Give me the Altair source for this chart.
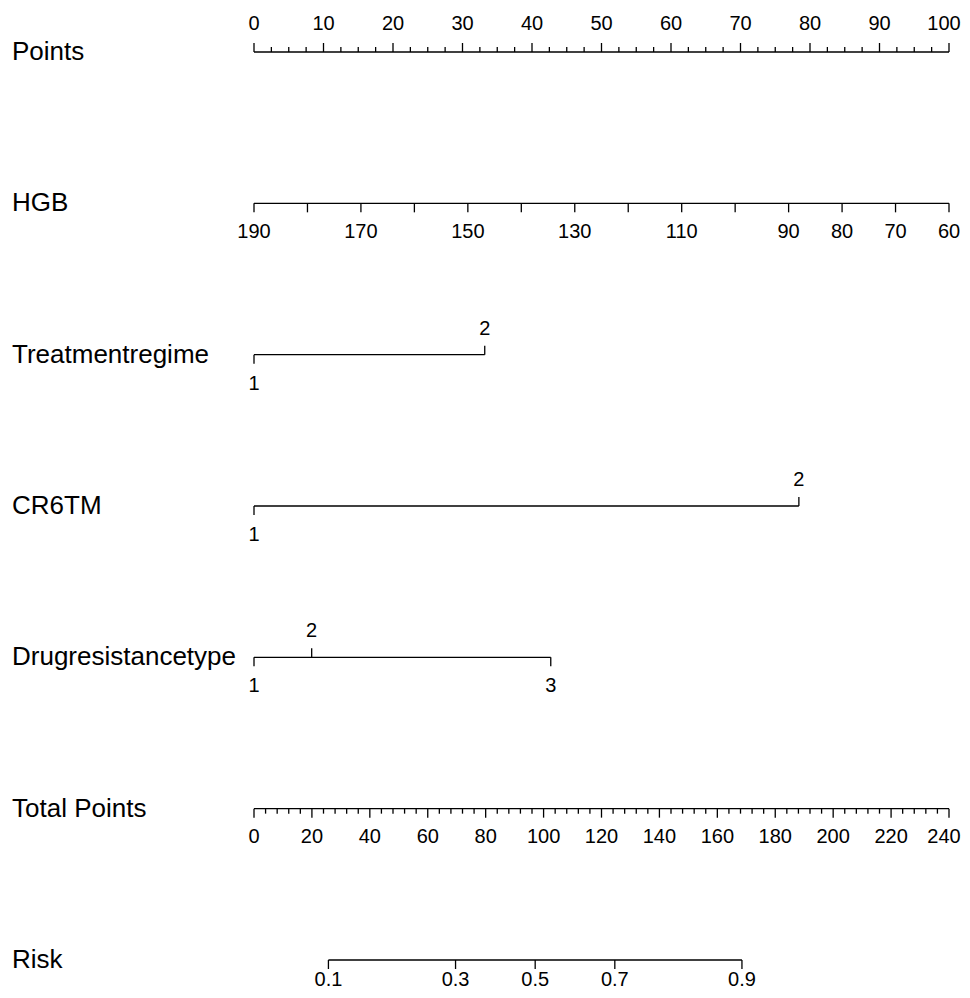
import altair as alt
import pandas as pd

# ---------------- data ----------------
row_names = ["Points", "HGB", "Treatmentregime", "CR6TM",
             "Drugresistancetype", "Total Points", "Risk"]

# Points axis (0-100)
points_major = [0, 10, 20, 30, 40, 50, 60, 70, 80, 90, 100]
points_minor_step = 2.5

# HGB axis (190 -> 0 points, 60 -> 100 points)
hgb_ticks = [190, 180, 170, 160, 150, 140, 130, 120, 110, 100, 90, 80, 70, 60]
hgb_labels = [190, 170, 150, 130, 110, 90, 80, 70, 60]
hgb_max, hgb_min = 190, 60

# categorical predictors: level, points, label side
treat_levels = ["1", "2"]
treat_points = [0.0, 33.2]
treat_side = ["below", "above"]

cr6_levels = ["1", "2"]
cr6_points = [0.0, 78.4]
cr6_side = ["below", "above"]

drug_levels = ["1", "2", "3"]
drug_points = [0.0, 8.3, 42.7]
drug_side = ["below", "above", "below"]

# Total points axis (0-240)
total_major = [0, 20, 40, 60, 80, 100, 120, 140, 160, 180, 200, 220, 240]
total_minor_step = 4
total_max = 240

# Risk axis: label and its position in total points
risk_labels = ["0.1", "0.3", "0.5", "0.7", "0.9"]
risk_total = [25.7, 69.6, 97.1, 124.6, 168.5]

# ---------------- layout / style ----------------
W, H = 954, 975
PAD_R, PAD_B = 0, 7
PX_PER_PT = 6.95
X0_PX = 246
XMIN = -X0_PX / PX_PER_PT
XMAX = XMIN + W / PX_PER_PT
ROW_PX = 151.33
ROW0_PX = 44
YMIN = -ROW0_PX / ROW_PX
YMAX = YMIN + H / ROW_PX

MAJOR, MINOR = 9, 5
ABOVE, BELOW = -26, 29
EDGE_DX = -5  # keeps the right-most 3-digit labels inside the page
FONT = "Liberation Sans"

lines, ticks, labels = [], [], []

def add_line(row, a, b):
    lines.append({"row": row, "x": min(a, b), "x2": max(a, b)})

def add_tick(row, x, length, up):
    ticks.append({"row": row, "x": x, "len": length,
                  "off": -length / 2 if up else length / 2})

def add_label(row, x, text, off, dx=0):
    labels.append({"row": row, "x": x, "text": text, "off": off, "dx": dx})

# Row 0: Points
add_line(0, 0, 100)
n = int(100 / points_minor_step)
for i in range(n + 1):
    v = i * points_minor_step
    add_tick(0, v, MAJOR if v in points_major else MINOR, True)
for v in points_major:
    add_label(0, v, str(v), -28, EDGE_DX if v == points_major[-1] else 0)

# Row 1: HGB
def hgb_to_pts(v):
    return (hgb_max - v) / (hgb_max - hgb_min) * 100
add_line(1, hgb_to_pts(hgb_max), hgb_to_pts(hgb_min))
for v in hgb_ticks:
    add_tick(1, hgb_to_pts(v), MAJOR, False)
for v in hgb_labels:
    add_label(1, hgb_to_pts(v), str(v), BELOW)

# Rows 2-4: categorical
for row, lv, pts, side in [(2, treat_levels, treat_points, treat_side),
                           (3, cr6_levels, cr6_points, cr6_side),
                           (4, drug_levels, drug_points, drug_side)]:
    add_line(row, min(pts), max(pts))
    for l, p, s in zip(lv, pts, side):
        up = s == "above"
        add_tick(row, p, MAJOR, up)
        add_label(row, p, l, ABOVE if up else BELOW)

# Row 5: Total points
def tp_to_pts(v):
    return v / total_max * 100
add_line(5, 0, 100)
for v in range(0, total_max + 1, total_minor_step):
    add_tick(5, tp_to_pts(v), MAJOR if v in total_major else MINOR, False)
for v in total_major:
    add_label(5, tp_to_pts(v), str(v), 28, EDGE_DX if v == total_major[-1] else 0)

# Row 6: Risk
add_line(6, tp_to_pts(risk_total[0]), tp_to_pts(risk_total[-1]))
for l, t in zip(risk_labels, risk_total):
    add_tick(6, tp_to_pts(t), MAJOR, False)
    add_label(6, tp_to_pts(t), l, 20)

lines_df = pd.DataFrame(lines)
ticks_df = pd.DataFrame(ticks)
labels_df = pd.DataFrame(labels)
names_df = pd.DataFrame({"row": list(range(len(row_names))), "name": row_names})

xs = alt.Scale(domain=[XMIN, XMAX], nice=False, zero=False)
ys = alt.Scale(domain=[YMIN, YMAX], nice=False, zero=False, reverse=True)

layers = []
layers.append(
    alt.Chart(lines_df).mark_rule(color="black", strokeWidth=1.3).encode(
        x=alt.X("x:Q", scale=xs, axis=None),
        x2="x2:Q",
        y=alt.Y("row:Q", scale=ys, axis=None),
    )
)

for (length, off), grp in ticks_df.groupby(["len", "off"]):
    layers.append(
        alt.Chart(grp).mark_tick(
            orient="vertical", color="black", thickness=1.3, opacity=1,
            size=float(length), yOffset=float(off),
        ).encode(
            x=alt.X("x:Q", scale=xs, axis=None),
            y=alt.Y("row:Q", scale=ys, axis=None),
        )
    )

for (off, dx), grp in labels_df.groupby(["off", "dx"]):
    layers.append(
        alt.Chart(grp).mark_text(
            font=FONT, fontSize=20, color="black", baseline="middle",
            align="center", dy=float(off), dx=float(dx),
        ).encode(
            x=alt.X("x:Q", scale=xs, axis=None),
            y=alt.Y("row:Q", scale=ys, axis=None),
            text="text:N",
        )
    )

layers.append(
    alt.Chart(names_df).mark_text(
        font=FONT, fontSize=26, color="black", baseline="middle", align="left"
    ).encode(
        x=alt.value(4),
        y=alt.Y("row:Q", scale=ys, axis=None),
        text="name:N",
    )
)

chart = alt.layer(*layers).properties(
    width=W, height=H, background="white",
    padding={"left": 0, "top": 0, "right": PAD_R, "bottom": PAD_B},
    autosize=alt.AutoSizeParams(type="none"),
).configure_view(stroke=None)

chart.save("out.html", embed_options={"renderer": "svg", "actions": False})
